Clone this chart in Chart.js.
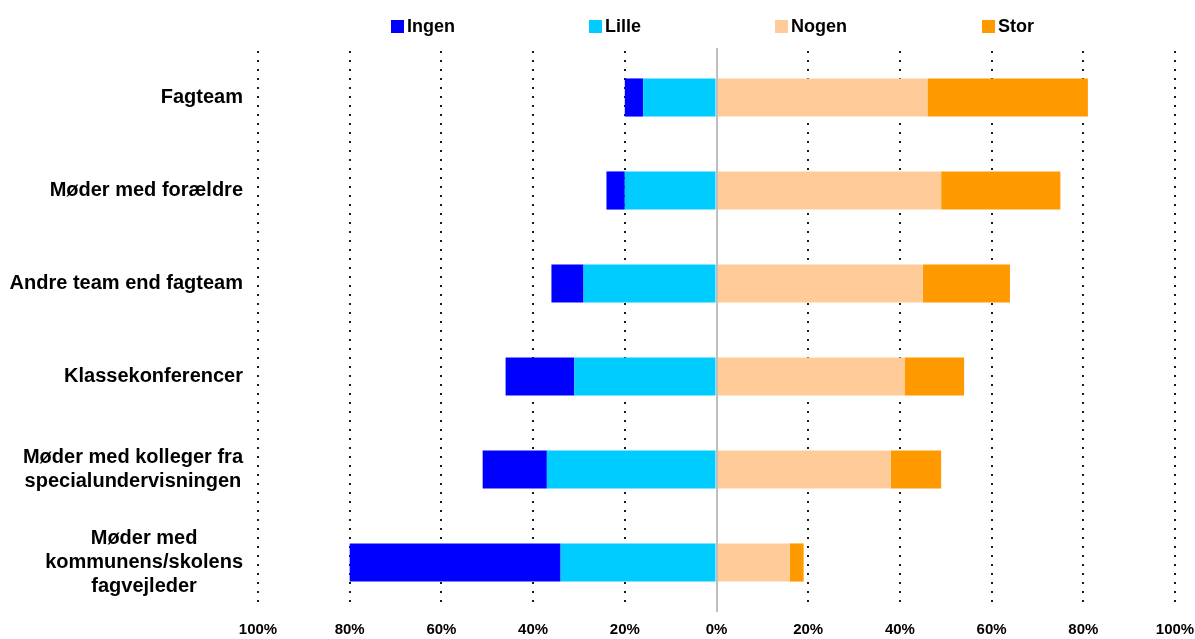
<!DOCTYPE html>
<html>
<head>
<meta charset="utf-8">
<script src="https://cdn.jsdelivr.net/npm/chart.js@4/dist/chart.umd.min.js"></script>
<style>
  html, body { margin: 0; padding: 0; background: #ffffff; }
  #wrap { width: 1195px; height: 639px; position: relative; }
</style>
</head>
<body>
<div id="wrap"><canvas id="c" width="1195" height="639"></canvas></div>
<script>
// Categories (each entry is the list of lines of its label)
const categories = [
  ["Fagteam"],
  ["Møder med forældre"],
  ["Andre team end fagteam"],
  ["Klassekonferencer"],
  ["Møder med kolleger fra", "specialundervisningen"],
  ["Møder med", "kommunens/skolens", "fagvejleder"]
];

// Shares in percent
const ingen = [4, 4, 7, 15, 14, 46];
const lille = [16, 20, 29, 31, 37, 34];
const nogen = [46, 49, 45, 41, 38, 16];
const stor  = [35, 26, 19, 13, 11, 3];

const seriesNames = ["Ingen", "Lille", "Nogen", "Stor"];
const seriesColors = ["#0000FF", "#00CCFF", "#FFCC99", "#FF9900"];

const tickValues = [-100, -80, -60, -40, -20, 0, 20, 40, 60, 80, 100];

const FONT = "'Liberation Sans', Arial, sans-serif";

// Category labels: block right-aligned against the plot, lines centred within the block
const categoryLabels = {
  id: 'categoryLabels',
  afterDraw(chart) {
    const ctx = chart.ctx;
    const yScale = chart.scales.y;
    const right = chart.chartArea.left - 15;
    const lineH = 24;
    ctx.save();
    ctx.font = "bold 20px " + FONT;
    ctx.fillStyle = "#000000";
    ctx.textAlign = "center";
    ctx.textBaseline = "middle";
    categories.forEach((lines, i) => {
      const yc = yScale.getPixelForValue(i);
      const maxW = Math.max(...lines.map(l => ctx.measureText(l).width));
      const xc = right - maxW / 2;
      const y0 = yc - (lines.length - 1) * lineH / 2;
      lines.forEach((l, k) => ctx.fillText(l, xc, y0 + k * lineH));
    });
    ctx.restore();
  }
};

// Solid zero line across the bars
const zeroLine = {
  id: 'zeroLine',
  afterDatasetsDraw(chart) {
    const ctx = chart.ctx;
    const x = Math.round(chart.scales.x.getPixelForValue(0));
    ctx.save();
    ctx.strokeStyle = "#bfbfbf";
    ctx.lineWidth = 2;
    ctx.beginPath();
    ctx.moveTo(x, chart.chartArea.top - 3);
    ctx.lineTo(x, chart.chartArea.bottom + 3);
    ctx.stroke();
    ctx.restore();
  }
};

// Legend row across the top
const legendRow = {
  id: 'legendRow',
  afterDraw(chart) {
    const ctx = chart.ctx;
    const xs = [391, 589, 775, 982];
    ctx.save();
    ctx.font = "bold 18px " + FONT;
    ctx.textAlign = "left";
    ctx.textBaseline = "middle";
    seriesNames.forEach((name, i) => {
      ctx.fillStyle = seriesColors[i];
      ctx.fillRect(xs[i], 20, 13, 13);
      ctx.fillStyle = "#000000";
      ctx.fillText(name, xs[i] + 16, 27);
    });
    ctx.restore();
  }
};

const barOpts = { borderWidth: 0, barPercentage: 0.41, categoryPercentage: 1.0 };

new Chart(document.getElementById('c'), {
  type: 'bar',
  data: {
    labels: categories.map(l => l.join(' ')),
    datasets: [
      // negative side: the first stacked set sits next to zero
      Object.assign({ label: "Lille", data: lille.map(v => -v), backgroundColor: seriesColors[1] }, barOpts),
      Object.assign({ label: "Ingen", data: ingen.map(v => -v), backgroundColor: seriesColors[0] }, barOpts),
      Object.assign({ label: "Nogen", data: nogen, backgroundColor: seriesColors[2] }, barOpts),
      Object.assign({ label: "Stor",  data: stor,  backgroundColor: seriesColors[3] }, barOpts)
    ]
  },
  options: {
    indexAxis: 'y',
    responsive: false,
    animation: false,
    layout: { padding: { left: 258, right: 20, top: 51, bottom: 2 } },
    plugins: {
      legend: { display: false },
      tooltip: { enabled: false },
      title: { display: false }
    },
    scales: {
      x: {
        stacked: true,
        min: -100,
        max: 100,
        afterBuildTicks(scale) { scale.ticks = tickValues.map(v => ({ value: v })); },
        afterFit(scale) {
          // keep the plot edges fixed; end labels may overhang into the margins
          scale.paddingLeft = 0;
          scale.paddingRight = 0;
          scale.height = 28;
        },
        ticks: {
          autoSkip: false,
          maxRotation: 0,
          padding: 12,
          color: "#000000",
          font: { family: FONT, size: 15, weight: 'bold' },
          callback: v => Math.abs(v) + "%"
        },
        grid: {
          drawTicks: false,
          lineWidth: 2,
          color: c => (c.tick && c.tick.value === 0) ? 'rgba(0,0,0,0)' : '#1a1a1a'
        },
        border: { display: false, dash: [2, 7] }
      },
      y: {
        stacked: true,
        display: false
      }
    }
  },
  plugins: [categoryLabels, zeroLine, legendRow]
});
</script>
</body>
</html>
